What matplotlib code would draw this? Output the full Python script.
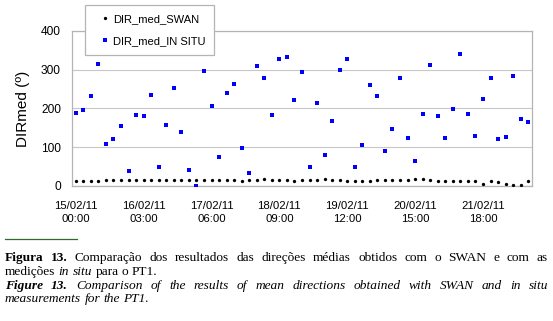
import matplotlib
matplotlib.use("Agg")
import matplotlib.pyplot as plt
from matplotlib.lines import Line2D

# DIR med, one value every 3 h, 15/02/11 00:00 .. 22/02/11 12:00
swan = [13, 13, 13, 13, 15, 16, 15, 16, 16, 15, 15, 15, 16, 16, 16, 15,
        16, 16, 16, 16, 16, 16, 14, 16, 16, 19, 16, 16, 16, 14, 16,
        16, 16, 18, 16, 16, 14, 13, 14, 13, 15, 15, 15, 16, 15, 17,
        18, 16, 14, 14, 13, 12, 12, 12, 6, 12, 10, 6, 3, 3, 13]
in_situ = [188, 196, 231, 316, 108, 122, 155, 38, 184, 180, 235, 49, 157, 253, 140, 42,
           0, 298, 207, 76, 239, 263, 97, 33, 309, 278, 182, 329, 333, 223, 295,
           49, 214, 79, 168, 299, 327, 49, 107, 260, 231, 90, 148, 278, 125, 65,
           187, 311, 180, 123, 198, 341, 187, 129, 224, 278, 122, 127, 284, 173, 166]
tick_pos = [0, 9, 18, 27, 36, 45, 54]
tick_labels = ["15/02/11\n00:00", "16/02/11\n03:00", "17/02/11\n06:00", "18/02/11\n09:00",
               "19/02/11\n12:00", "20/02/11\n15:00", "21/02/11\n18:00"]

W, H = 553, 321
plt.rcParams['font.family'] = ['Liberation Sans', 'DejaVu Sans']

fig = plt.figure(figsize=(W / 100, H / 100), dpi=100)
ax = fig.add_axes([72 / W, 1 - 186 / H, 460 / W, 155 / H])

x = list(range(len(swan)))
ax.plot(x, swan, 'o', color='black', ms=2.4, mew=0, zorder=3)
ax.plot(x, in_situ, 's', color='#0000ff', ms=3.2, mew=0, zorder=3)

ax.set_xlim(-0.5, len(swan) - 0.5)
ax.set_ylim(0, 400)
ax.set_yticks([0, 100, 200, 300, 400])
ax.set_xticks(tick_pos)
ax.set_xticklabels(tick_labels, fontsize=8.2, linespacing=1.3)
ax.tick_params(axis='y', labelsize=8.6, length=0, pad=8)
ax.tick_params(axis='x', length=0, pad=11)
ax.grid(axis='y', color='#c8c8c8', lw=0.8)
ax.set_axisbelow(True)
for s in ax.spines.values():
    s.set_color('#b4b4b4')
    s.set_linewidth(0.9)
ax.set_ylabel('DIRmed (º)', fontsize=11, labelpad=8)

handles = [Line2D([], [], ls='', marker='o', color='black', ms=2.4, mew=0),
           Line2D([], [], ls='', marker='s', color='#0000ff', ms=3.2, mew=0)]
leg = fig.legend(handles, ['DIR_med_SWAN', 'DIR_med_IN SITU'], loc='upper left',
                 bbox_to_anchor=(85 / W, 1 - 5 / H), fontsize=8, frameon=True,
                 fancybox=False, edgecolor='#b4b4b4', framealpha=1,
                 handlelength=2.0, handletextpad=-0.28, labelspacing=1.1,
                 borderpad=0.8, borderaxespad=0)
leg.get_frame().set_linewidth(0.9)

# caption below the chart
fig.add_artist(Line2D([5 / W, 77 / W], [1 - 239 / H, 1 - 239 / H], color='#2e6b2e', lw=0.9))

fs = 9.6
renderer = fig.canvas.get_renderer()


def caption_line(tokens, ybase, x0=5, x1=None):
    texts = []
    for word, wt, st in tokens:
        texts.append(fig.text(0, 1 - ybase / H, word, fontsize=fs, family='Liberation Serif',
                              weight=wt, style=st, va='baseline', ha='left'))
    widths = [t.get_window_extent(renderer).width for t in texts]
    if x1 is None:
        gap = fs * 0.25 * 100 / 72
    else:
        gap = (x1 - x0 - sum(widths)) / (len(texts) - 1)
    pos = x0
    for t, w in zip(texts, widths):
        t.set_x(pos / W)
        pos += w + gap


def words(s, wt='normal', st='normal'):
    return [(w, wt, st) for w in s.split()]


caption_line(words('Figura 13.', 'bold') +
             words('Comparação dos resultados das direções médias obtidos com o SWAN e com as'),
             261, x1=548)
caption_line(words('medições') + words('in situ', st='italic') + words('para o PT1.'), 275)
caption_line(words('Figure 13.', 'bold', 'italic') +
             words('Comparison of the results of mean directions obtained with SWAN and in situ',
                   st='italic'), 289, x1=548)
caption_line(words('measurements for the PT1.', st='italic'), 302)

fig.savefig('out.png', dpi=100)
